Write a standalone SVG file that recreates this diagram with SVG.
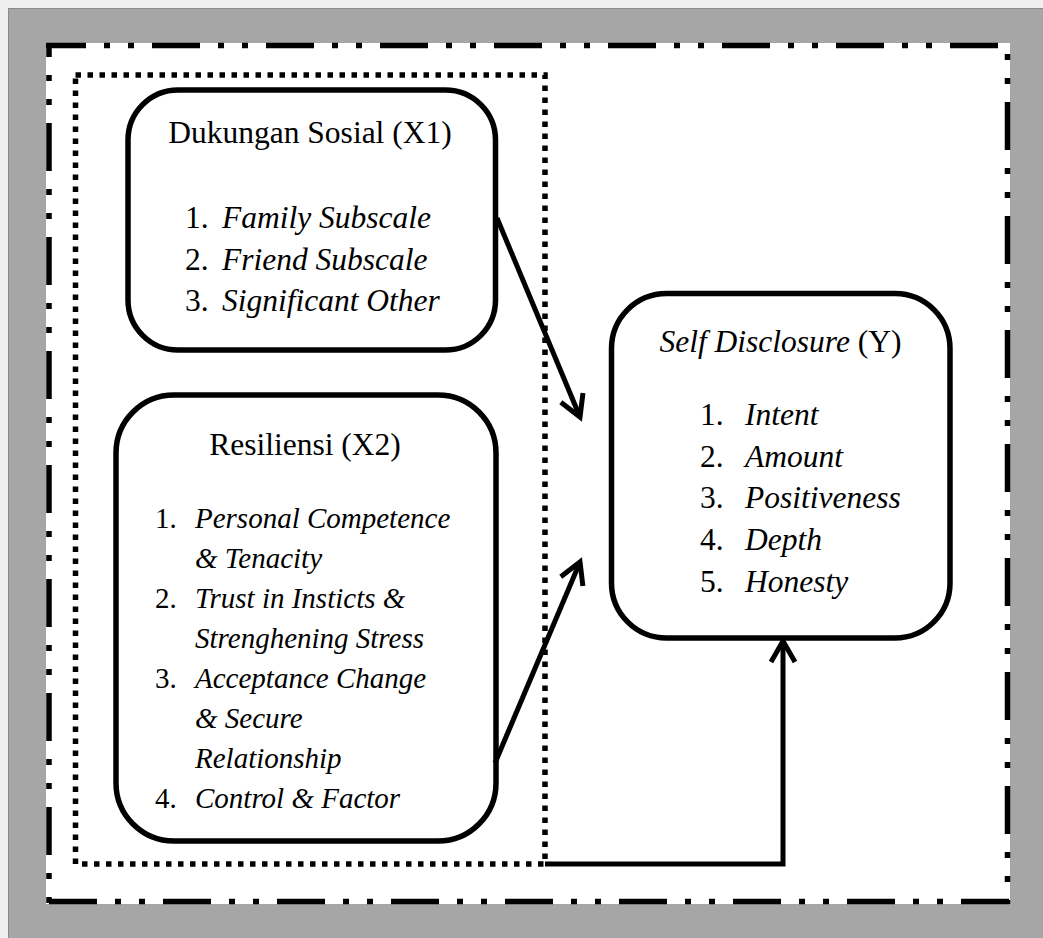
<svg xmlns="http://www.w3.org/2000/svg" width="1043" height="938" viewBox="0 0 1043 938">
<defs>
<style>
.box{fill:#fff;stroke:#000;stroke-width:5.5}
.t{font-family:"Liberation Serif","Times New Roman",serif;font-size:31.5px;fill:#000}
.s{font-size:29px}
.i{font-style:italic}
.dd{fill:none;stroke:#000;stroke-width:5.5;stroke-dasharray:48 18 6 18 6 18}
.dot{fill:none;stroke:#000;stroke-width:5.5;stroke-dasharray:5.5 6.5}
.c{fill:none;stroke:#000;stroke-width:5}
</style>
<marker id="arr" markerUnits="userSpaceOnUse" orient="auto" refX="0" refY="0" markerWidth="40" markerHeight="40" overflow="visible">
<path d="M-21,-12 L0,0 L-21,12" fill="none" stroke="#000" stroke-width="5"/>
</marker>
</defs>
<g id="background">
<rect x="0" y="0" width="1043" height="938" fill="#efefef"/>
<rect x="8.5" y="8.5" width="1040" height="935" fill="#a6a6a6" stroke="#8a8a8a" stroke-width="1"/>
<rect x="46" y="43" width="964" height="861" fill="#fff"/>
</g>
<g id="frame">
<line class="dd" x1="46" y1="45.5" x2="1010" y2="45.5" stroke-dashoffset="8"/>
<line class="dd" x1="1007.5" y1="43" x2="1007.5" y2="904" stroke-dashoffset="55"/>
<line class="dd" x1="49" y1="43" x2="49" y2="904" stroke-dashoffset="34"/>
<line class="dd" x1="46" y1="901.5" x2="1010" y2="901.5" stroke-dashoffset="111"/>
<rect id="group-x" class="dot" x="75.5" y="75" width="469.5" height="789"/>
</g>
<g id="node-x1">
<rect class="box" x="128" y="90" width="367.5" height="260" rx="50" ry="50"/>
<text class="t" x="310" y="143" text-anchor="middle">Dukungan Sosial (X1)</text>
<text class="t" x="185" y="228">1.</text><text class="t i" x="222" y="228">Family Subscale</text>
<text class="t" x="185" y="269.5">2.</text><text class="t i" x="222" y="269.5">Friend Subscale</text>
<text class="t" x="185" y="311">3.</text><text class="t i" x="222" y="311">Significant Other</text>
</g>
<g id="node-x2">
<rect class="box" x="116" y="395" width="380" height="446" rx="58" ry="58"/>
<text class="t" x="305" y="455" text-anchor="middle">Resiliensi (X2)</text>
<text class="t s" x="155" y="528">1.</text><text class="t s i" x="195" y="528">Personal Competence</text>
<text class="t s i" x="195" y="568">&amp; Tenacity</text>
<text class="t s" x="155" y="608">2.</text><text class="t s i" x="195" y="608">Trust in Insticts &amp;</text>
<text class="t s i" x="195" y="648">Strenghening Stress</text>
<text class="t s" x="155" y="688">3.</text><text class="t s i" x="195" y="688">Acceptance Change</text>
<text class="t s i" x="195" y="728">&amp; Secure</text>
<text class="t s i" x="195" y="768">Relationship</text>
<text class="t s" x="155" y="808">4.</text><text class="t s i" x="195" y="808">Control &amp; Factor</text>
</g>
<g id="node-y">
<rect class="box" x="611.5" y="293.5" width="338.5" height="344.5" rx="55" ry="55"/>
<text class="t" x="780.5" y="352" text-anchor="middle"><tspan class="i">Self Disclosure</tspan> (Y)</text>
<text class="t" x="700" y="425">1.</text><text class="t i" x="745" y="425">Intent</text>
<text class="t" x="700" y="467">2.</text><text class="t i" x="745" y="467">Amount</text>
<text class="t" x="700" y="508">3.</text><text class="t i" x="745" y="508">Positiveness</text>
<text class="t" x="700" y="550">4.</text><text class="t i" x="745" y="550">Depth</text>
<text class="t" x="700" y="592">5.</text><text class="t i" x="745" y="592">Honesty</text>
</g>
<g id="connectors">
<line class="c" x1="497" y1="218" x2="580" y2="417" marker-end="url(#arr)"/>
<line class="c" x1="495" y1="763" x2="580" y2="562" marker-end="url(#arr)"/>
<polyline class="c" points="545,864 783,864 783,641" marker-end="url(#arr)"/>
</g>
</svg>
